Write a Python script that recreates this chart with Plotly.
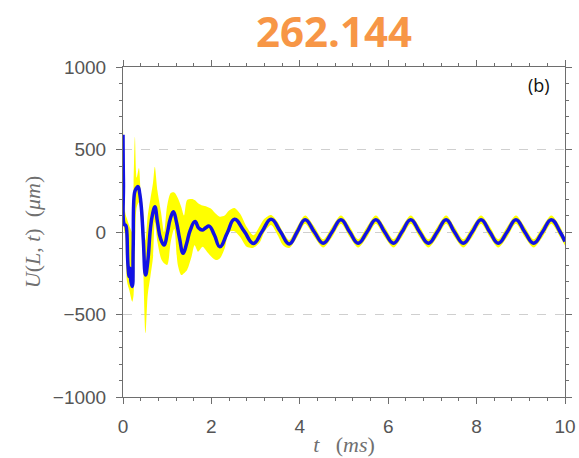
import plotly.graph_objects as go

# ---- data ----
blue_t = [0.00, 0.01, 0.03, 0.06, 0.08, 0.11, 0.14, 0.16, 0.18, 0.21, 0.23, 0.26, 0.29, 0.34,
          0.38, 0.42, 0.46, 0.51, 0.56, 0.62, 0.67, 0.72, 0.78, 0.85, 0.93, 1.00, 1.07, 1.14,
          1.21, 1.28, 1.36, 1.44, 1.52, 1.63, 1.71, 1.79, 1.87, 1.95, 2.07, 2.19, 2.36, 2.52,
          2.74, 2.95, 3.15, 3.35, 3.56, 3.76, 3.94, 4.12, 4.33, 4.53, 4.73, 4.93, 5.13, 5.32,
          5.52, 5.72, 5.92, 6.12, 6.31, 6.51, 6.71, 6.91, 7.11, 7.31, 7.50, 7.70, 7.90, 8.10,
          8.30, 8.49, 8.69, 8.89, 9.09, 9.29, 9.49, 9.69, 9.89, 10.0]
blue_u = [590, 300, 45, 40, 20, -190, -270, -220, -300, -330, -100, 236, 260, 275,
          230, 133, -50, -261, -180, 20, 110, 153, 60, -40, -79, -10, 80, 123,
          60, -40, -129, -70, 10, 63, 25, 12, 25, 36, -20, -89, -5, 77,
          5, -69, 5, 77, 3, -72, 0, 75, 0, -68, 0, 75, 0, -68,
          0, 75, 0, -68, 0, 75, 0, -68, 0, 75, 0, -68, 0, 75,
          0, -68, 0, 75, 0, -68, 0, 75, 0, -58]

band_t = [0.00, 0.02, 0.05, 0.09, 0.14, 0.21, 0.24, 0.27, 0.31, 0.36, 0.40, 0.45, 0.51, 0.56,
          0.62, 0.68, 0.72, 0.78, 0.86, 0.93, 1.00, 1.08, 1.16, 1.24, 1.32, 1.38, 1.45, 1.55,
          1.62, 1.70, 1.80, 1.90, 2.00, 2.10, 2.19, 2.30, 2.40, 2.52, 2.65, 2.80, 2.95, 3.10,
          3.20, 3.35, 3.50, 3.62, 3.76, 3.94, 4.12, 4.33, 4.53, 4.73, 4.93, 5.13, 5.32, 5.52,
          5.72, 5.92, 6.12, 6.31, 6.51, 6.71, 6.91, 7.11, 7.31, 7.50, 7.70, 7.90, 8.10, 8.30,
          8.49, 8.69, 8.89, 9.09, 9.29, 9.49, 9.69, 9.89, 10.0]
band_hi = [630, 450, 120, 80, 40, 0, 300, 578, 330, 388, 250, 150, -50, 100,
           200, 300, 396, 250, 120, 0, 160, 236, 240, 206, 150, 100, 194, 200,
           194, 175, 160, 153, 140, 110, 93, 100, 130, 145, 110, 30, -20, 40,
           80, 103, 60, 0, -48, 32, 100, 32, -44, 32, 100, 32, -44, 32,
           100, 32, -44, 32, 100, 32, -44, 32, 100, 32, -44, 32, 100, 32,
           -44, 32, 100, 32, -44, 32, 100, 32, -36]
band_lo = [520, 20, -20, -300, -350, -422, -380, -100, 150, 180, 80, -150, -612, -380,
           -270, -150, 60, -60, -160, -190, -200, -60, 20, -200, -261, -250, -230, -150,
           -80, -119, -90, -120, -150, -170, -160, -100, 0, 5, -30, -90, -95, -60,
           0, 42, -20, -80, -97, -32, 50, -32, -94, -32, 50, -32, -94, -32,
           50, -32, -94, -32, 50, -32, -94, -32, 50, -32, -94, -32, 50, -32,
           -94, -32, 50, -32, -94, -32, 50, -32, -82]

x_ticks = [0, 2, 4, 6, 8, 10]
y_ticks = [-1000, -500, 0, 500, 1000]
title_text = "262.144"
panel_label = "(b)"

BLUE = "#1212e4"
YELLOW = "#ffff00"
AXIS = "#6e6e6e"
TICKFONT = dict(family="Liberation Sans, Arial, sans-serif", size=19, color="#555555")
TITLEFONT = dict(family="Liberation Serif, DejaVu Serif, serif", size=22, color="#707070")

fig = go.Figure()
fig.add_trace(go.Scatter(x=band_t, y=band_lo, mode="lines",
                         line=dict(width=0, color=YELLOW, shape="spline", smoothing=0.8),
                         showlegend=False, hoverinfo="skip"))
fig.add_trace(go.Scatter(x=band_t, y=band_hi, mode="lines", fill="tonexty", fillcolor=YELLOW,
                         line=dict(width=0, color=YELLOW, shape="spline", smoothing=0.8),
                         showlegend=False, hoverinfo="skip"))
fig.add_trace(go.Scatter(x=blue_t, y=blue_u, mode="lines",
                         line=dict(width=3.5, color=BLUE, shape="spline", smoothing=1.3),
                         showlegend=False))

fig.update_layout(
    width=579, height=458,
    margin=dict(l=123, r=14, t=67, b=61, autoexpand=False),
    paper_bgcolor="white", plot_bgcolor="white",
    showlegend=False,
)
fig.update_xaxes(
    range=[0, 10], tickvals=x_ticks, ticks="outside", ticklen=6, tickwidth=1, tickcolor=AXIS,
    showline=True, linecolor=AXIS, linewidth=1, mirror="ticks", automargin=False,
    showgrid=False, zeroline=False, tickfont=TICKFONT, ticklabelstandoff=6,
    minor=dict(dtick=0.4, ticks="outside", ticklen=3, tickcolor=AXIS, showgrid=False),
    title=dict(text="<i>t</i>   (<i>ms</i>)", standoff=0, font=TITLEFONT),
)
fig.update_yaxes(
    range=[-1000, 1000], tickvals=y_ticks, ticks="outside", ticklen=6, tickwidth=1, tickcolor=AXIS,
    showline=True, linecolor=AXIS, linewidth=1, mirror="ticks", automargin=False,
    showgrid=True, gridcolor="#cfcfcf", griddash="dash", gridwidth=1,
    zeroline=False, tickfont=TICKFONT, ticklabelstandoff=6,
    minor=dict(dtick=100, ticks="outside", ticklen=3, tickcolor=AXIS, showgrid=False),
    title=dict(text="<i>U</i>(<i>L</i>, <i>t</i>)  (<i>μm</i>)", standoff=6, font=TITLEFONT),
)

fig.add_annotation(text=title_text, xref="paper", yref="paper", x=0.477, y=1.112,
                   xanchor="center", yanchor="middle", showarrow=False,
                   font=dict(family="Open Sans, sans-serif", size=42, color="#f79646", weight="bold"))
fig.add_annotation(text=panel_label, xref="paper", yref="paper", x=0.941, y=0.945,
                   xanchor="center", yanchor="middle", showarrow=False,
                   font=dict(family="Open Sans, sans-serif", size=18, color="#111111"))

fig.write_html("out.html")
